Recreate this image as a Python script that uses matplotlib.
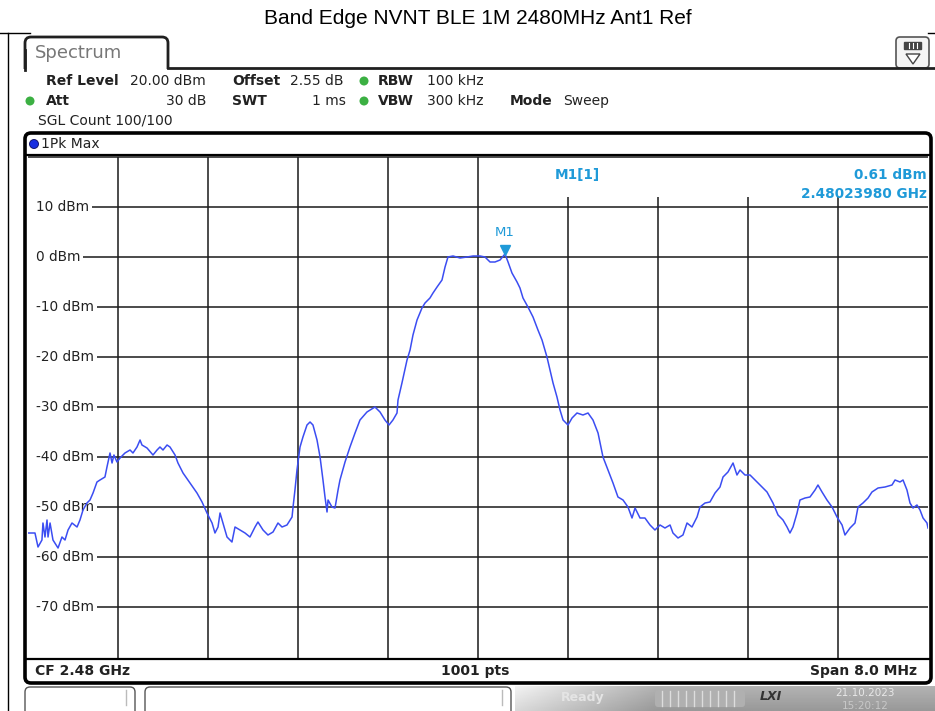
import numpy as np
import matplotlib
matplotlib.use("Agg")
import matplotlib.pyplot as plt
from matplotlib import font_manager, transforms
from matplotlib.patches import FancyBboxPatch, Rectangle, Circle, Polygon

# sweep settings
start_mhz = 2476.0
span_mhz = 8.0
ref_level = 20.0
marker_mhz = 2480.2398
marker_dbm = 0.61

# trace (1Pk Max), offset from start frequency in MHz and level in dBm
freq_offset_mhz = [
    0.000, 0.062, 0.089, 0.124, 0.133, 0.151, 0.169, 0.178, 0.196, 0.222,
    0.267, 0.302, 0.329, 0.356, 0.391, 0.436, 0.462, 0.489, 0.524, 0.551,
    0.578, 0.613, 0.640, 0.684, 0.702, 0.729, 0.747, 0.764, 0.791, 0.818,
    0.862, 0.907, 0.933, 0.969, 0.996, 1.013, 1.058, 1.111, 1.147, 1.173,
    1.200, 1.236, 1.262, 1.307, 1.333, 1.378, 1.440, 1.502, 1.547, 1.591,
    1.636, 1.662, 1.689, 1.707, 1.733, 1.769, 1.813, 1.840, 1.884, 1.929,
    1.973, 2.018, 2.044, 2.089, 2.133, 2.178, 2.222, 2.258, 2.302, 2.347,
    2.356, 2.373, 2.391, 2.418, 2.444, 2.480, 2.507, 2.533, 2.569, 2.596,
    2.622, 2.640, 2.658, 2.667, 2.702, 2.729, 2.756, 2.773, 2.818, 2.862,
    2.907, 2.951, 3.013, 3.084, 3.129, 3.173, 3.209, 3.244, 3.280, 3.289,
    3.324, 3.369, 3.396, 3.422, 3.458, 3.502, 3.529, 3.573, 3.600, 3.636,
    3.680, 3.707, 3.733, 3.778, 3.840, 3.902, 3.956, 4.018, 4.062, 4.107,
    4.151, 4.196, 4.2398, 4.267, 4.302, 4.347, 4.373, 4.400, 4.444, 4.489,
    4.533, 4.569, 4.613, 4.640, 4.667, 4.702, 4.729, 4.756, 4.800, 4.836,
    4.880, 4.933, 4.978, 5.022, 5.067, 5.111, 5.156, 5.200, 5.244, 5.289,
    5.333, 5.369, 5.396, 5.440, 5.484, 5.529, 5.573, 5.618, 5.662, 5.707,
    5.733, 5.778, 5.822, 5.858, 5.902, 5.947, 5.973, 6.018, 6.062, 6.107,
    6.151, 6.178, 6.222, 6.267, 6.302, 6.329, 6.373, 6.418, 6.462, 6.507,
    6.569, 6.622, 6.667, 6.711, 6.747, 6.773, 6.800, 6.836, 6.862, 6.907,
    6.951, 6.996, 7.022, 7.058, 7.102, 7.147, 7.191, 7.236, 7.262, 7.307,
    7.351, 7.378, 7.422, 7.467, 7.502, 7.556, 7.618, 7.680, 7.707, 7.751,
    7.778, 7.813, 7.840, 7.867, 7.902, 7.929, 7.956, 7.991, 8.000,
]
level_dbm = [
    -55.2, -55.2, -58.0, -56.6, -53.2, -56.0, -52.6, -56.0, -53.2, -56.6,
    -58.2, -56.0, -56.6, -54.6, -53.2, -54.0, -52.6, -50.6, -49.2, -48.6,
    -47.2, -45.0, -44.6, -44.0, -42.0, -39.2, -41.2, -39.6, -41.0, -40.2,
    -39.2, -38.6, -39.2, -38.0, -36.6, -37.6, -38.2, -39.6, -38.6, -38.0,
    -38.6, -37.6, -38.0, -39.6, -41.2, -43.2, -45.2, -47.2, -49.0, -51.2,
    -53.2, -55.2, -54.0, -51.2, -53.2, -56.0, -57.0, -54.0, -54.6, -55.2,
    -56.0, -54.0, -53.0, -54.6, -55.6, -55.0, -53.2, -54.0, -53.6, -52.0,
    -50.0, -46.6, -42.6, -38.0, -36.0, -33.6, -33.0, -33.6, -36.6, -40.0,
    -44.6, -48.0, -51.0, -48.6, -50.0, -50.2, -46.6, -44.6, -41.0, -38.0,
    -35.2, -32.6, -31.0, -30.0, -31.0, -32.6, -33.6, -32.6, -31.2, -28.6,
    -25.2, -20.6, -18.6, -15.6, -12.6, -10.2, -9.2, -8.2, -7.2, -6.0,
    -4.6, -2.0, 0.0, 0.2, -0.2, 0.0, 0.2, 0.2, 0.0, -1.0,
    -1.0, -0.6, 0.61, -1.0, -3.2, -5.0, -6.2, -8.2, -10.0, -12.0,
    -14.6, -16.6, -20.0, -22.6, -25.2, -28.0, -30.6, -32.6, -33.6, -32.2,
    -31.2, -31.6, -31.2, -32.6, -35.2, -40.0, -42.6, -45.2, -48.0, -48.6,
    -50.0, -52.2, -50.2, -52.2, -52.2, -53.6, -54.6, -53.6, -54.2, -53.6,
    -55.2, -56.2, -55.6, -53.2, -54.0, -52.0, -50.0, -49.2, -49.0, -47.2,
    -46.0, -44.0, -43.0, -41.2, -43.6, -42.6, -43.6, -43.6, -44.6, -45.6,
    -47.0, -49.2, -51.6, -52.6, -54.0, -55.2, -54.0, -51.2, -48.6, -48.2,
    -48.0, -46.6, -45.6, -47.0, -48.6, -50.0, -52.0, -53.6, -55.6, -54.2,
    -53.2, -50.0, -49.2, -48.2, -47.0, -46.2, -46.0, -45.6, -44.6, -45.0,
    -44.6, -46.6, -49.2, -50.2, -49.6, -50.6, -52.2, -53.2, -54.2,
]
y_levels = [10, 0, -10, -20, -30, -40, -50, -60, -70]


def pick_font(*names):
    for n in names:
        try:
            font_manager.findfont(n, fallback_to_default=False)
            return n
        except ValueError:
            pass
    return "DejaVu Sans"


title_font = pick_font("Liberation Sans Narrow", "Liberation Sans")
ui_font = "DejaVu Sans"

W, H = 935, 711
fig = plt.figure(figsize=(W / 100, H / 100), dpi=100)
fig.patch.set_facecolor("white")

# trace area in pixels: x 28..928, y 155..659
gx0, gx1, gy0, gy1 = 28, 928, 155, 659
ax = fig.add_axes([gx0 / W, 1 - gy1 / H, (gx1 - gx0) / W, (gy1 - gy0) / H])
ax.set_zorder(1)
freqs = start_mhz + np.array(freq_offset_mhz)
ax.set_xlim(start_mhz, start_mhz + span_mhz)
ax.set_ylim(-80 - 0.4, ref_level + 0.4)
ax.set_xticks([])
ax.set_yticks([])
for s in ax.spines.values():
    s.set_visible(False)

grid_c = "#1a1a1a"
for lv in range(-70, 30, 10):
    ax.axhline(lv, color=grid_c, lw=1.1, zorder=1)
div = span_mhz / 10
for i in range(1, 10):
    top = ref_level if i <= 5 else 12
    ax.vlines(start_mhz + i * div, -80.4, top, color=grid_c, lw=1.1, zorder=1)

# level labels sit on a white strip at the left edge
lab_tf = transforms.blended_transform_factory(ax.transAxes, ax.transData)
ax.add_patch(Rectangle((0, -75), 0.008, 90, transform=lab_tf, fc="white",
                       ec="none", zorder=1.5))
for lv in y_levels:
    ax.text(0.0089, lv, f"{lv} dBm", transform=lab_tf, ha="left", va="center",
            fontsize=9.8, family=ui_font, color="#222222", zorder=2,
            bbox=dict(boxstyle="square,pad=0.2", fc="white", ec="none"))

ax.plot(freqs, level_dbm, color="#3b4df2", lw=1.1, zorder=4)

# marker M1
mk_c = "#1f9ad8"
tri_tf = transforms.offset_copy(ax.transData, fig=fig, x=0, y=4, units="dots")
ax.plot([marker_mhz], [marker_dbm], marker="v", ms=7, color=mk_c,
        transform=tri_tf, zorder=5)
lbl_tf = transforms.offset_copy(ax.transData, fig=fig, x=0, y=15, units="dots")
ax.text(marker_mhz, marker_dbm, "M1", transform=lbl_tf, ha="center",
        va="bottom", fontsize=9.5, color=mk_c, family=ui_font, zorder=5)
ax.text(0.61, 0.975, "M1[1]", transform=ax.transAxes, ha="center", va="top",
        fontsize=9.8, fontweight="bold", color=mk_c, family=ui_font)
ax.text(0.999, 0.975, f"{marker_dbm:.2f} dBm", transform=ax.transAxes,
        ha="right", va="top", fontsize=9.8, fontweight="bold", color=mk_c,
        family=ui_font)
ax.text(0.999, 0.937, f"{marker_mhz / 1000:.8f} GHz", transform=ax.transAxes,
        ha="right", va="top", fontsize=9.8, fontweight="bold", color=mk_c,
        family=ui_font)

# overlay in pixel coordinates for the instrument frame
ov = fig.add_axes([0, 0, 1, 1])
ov.set_zorder(2)
ov.patch.set_alpha(0)
ov.set_xlim(0, W)
ov.set_ylim(H, 0)
ov.axis("off")

ov.text(478, 18, "Band Edge NVNT BLE 1M 2480MHz Ant1 Ref", ha="center",
        va="center", fontsize=15, family=title_font, color="black")
ov.plot([8, 8], [33, H], color="black", lw=1)
ov.plot([0, 30], [33, 33], color="black", lw=1)
ov.plot([928, 935], [33, 33], color="black", lw=1)

# Spectrum tab
ov.add_patch(FancyBboxPatch((25, 37), 143, 40, boxstyle="round,pad=0,rounding_size=6",
                            fc="white", ec="#202020", lw=2))
ov.add_patch(Rectangle((22, 69), 150, 12, fc="white", ec="none"))
ov.plot([25, 25], [50, 70], color="#202020", lw=2)
ov.plot([168, 935], [68, 68], color="#202020", lw=2)
ov.text(35, 53, "Spectrum", ha="left", va="center", fontsize=13,
        family=ui_font, color="#777777")

# display config icon
ov.add_patch(FancyBboxPatch((896, 37), 33, 31, boxstyle="round,pad=0,rounding_size=4",
                            fc="#f4f4f4", ec="#555555", lw=1.2))
ov.add_patch(Rectangle((904, 42), 17, 7, fc="#444444", ec="#444444"))
for bx in (909, 913, 917):
    ov.plot([bx, bx], [43, 48], color="white", lw=0.8)
ov.add_patch(Polygon([[906, 54], [920, 54], [913, 64]], closed=True,
                     fc="white", ec="#444444", lw=1))

# setting rows
dot_c = "#3cb043"
row1, row2, row3 = 81, 101, 121
kw = dict(va="center", fontsize=10, family=ui_font, color="#222222")
ov.text(46, row1, "Ref Level", ha="left", fontweight="bold", **kw)
ov.text(130, row1, "20.00 dBm", ha="left", **kw)
ov.text(232, row1, "Offset", ha="left", fontweight="bold", **kw)
ov.text(290, row1, "2.55 dB", ha="left", **kw)
ov.add_patch(Circle((364, row1), 4.5, fc=dot_c, ec="none"))
ov.text(378, row1, "RBW", ha="left", fontweight="bold", **kw)
ov.text(427, row1, "100 kHz", ha="left", **kw)

ov.add_patch(Circle((30, row2), 4.5, fc=dot_c, ec="none"))
ov.text(46, row2, "Att", ha="left", fontweight="bold", **kw)
ov.text(206, row2, "30 dB", ha="right", **kw)
ov.text(232, row2, "SWT", ha="left", fontweight="bold", **kw)
ov.text(346, row2, "1 ms", ha="right", **kw)
ov.add_patch(Circle((364, row2), 4.5, fc=dot_c, ec="none"))
ov.text(378, row2, "VBW", ha="left", fontweight="bold", **kw)
ov.text(427, row2, "300 kHz", ha="left", **kw)
ov.text(510, row2, "Mode", ha="left", fontweight="bold", **kw)
ov.text(563, row2, "Sweep", ha="left", **kw)
ov.text(38, row3, "SGL Count 100/100", ha="left", **kw)

# diagram frame
ov.add_patch(FancyBboxPatch((25, 133), 906, 550, boxstyle="round,pad=0,rounding_size=6",
                            fc="none", ec="black", lw=2.6))
ov.plot([26, 930], [155, 155], color="black", lw=1.6)
ov.plot([26, 930], [659, 659], color="black", lw=1.6)
ov.add_patch(Circle((34, 144), 4.5, fc="#1a2fe0", ec="#0a0a60", lw=0.6))
ov.text(41, 144, "1Pk Max", ha="left", **kw)

ov.text(35, 671, "CF 2.48 GHz", ha="left", fontweight="bold", **kw)
ov.text(475, 671, "1001 pts", ha="center", fontweight="bold", **kw)
ov.text(917, 671, "Span 8.0 MHz", ha="right", fontweight="bold", **kw)

# status bar
ov.add_patch(FancyBboxPatch((25, 687), 110, 30, boxstyle="round,pad=0,rounding_size=5",
                            fc="white", ec="#555555", lw=1))
ov.add_patch(FancyBboxPatch((145, 687), 366, 30, boxstyle="round,pad=0,rounding_size=5",
                            fc="white", ec="#555555", lw=1))
ov.plot([126, 126], [690, 705], color="#bbbbbb", lw=1)
ov.plot([502, 502], [690, 705], color="#bbbbbb", lw=1)
gx = np.linspace(0, 1, 200)
gy = np.linspace(0, 1, 20)[:, None]
grad = 0.95 - 0.25 * np.clip(gx * 3, 0, 1)[None, :] - 0.1 * gy
ov.imshow(grad, extent=(515, 935, 711, 686), cmap="gray", vmin=0, vmax=1,
          aspect="auto", zorder=1)
ov.text(583, 698, "Ready", ha="center", va="center", fontsize=9,
        fontweight="bold", color="#e4e4e4", family=ui_font, zorder=2)
ov.add_patch(FancyBboxPatch((655, 690), 90, 17, boxstyle="round,pad=0,rounding_size=3",
                            fc="#b0b0b0", ec="none", zorder=2))
for bx in range(662, 742, 8):
    ov.plot([bx, bx], [691, 706], color="#dddddd", lw=1, zorder=3)
ov.text(771, 697, "LXI", ha="center", va="center", fontsize=9, style="italic",
        fontweight="bold", color="#333333", family=ui_font, zorder=2)
ov.text(865, 693, "21.10.2023", ha="center", va="center", fontsize=7.5,
        color="#e8e8e8", family=ui_font, zorder=2)
ov.text(865, 706, "15:20:12", ha="center", va="center", fontsize=7.5,
        color="#c8c8c8", family=ui_font, zorder=2)

fig.savefig("out.png", dpi=100)
